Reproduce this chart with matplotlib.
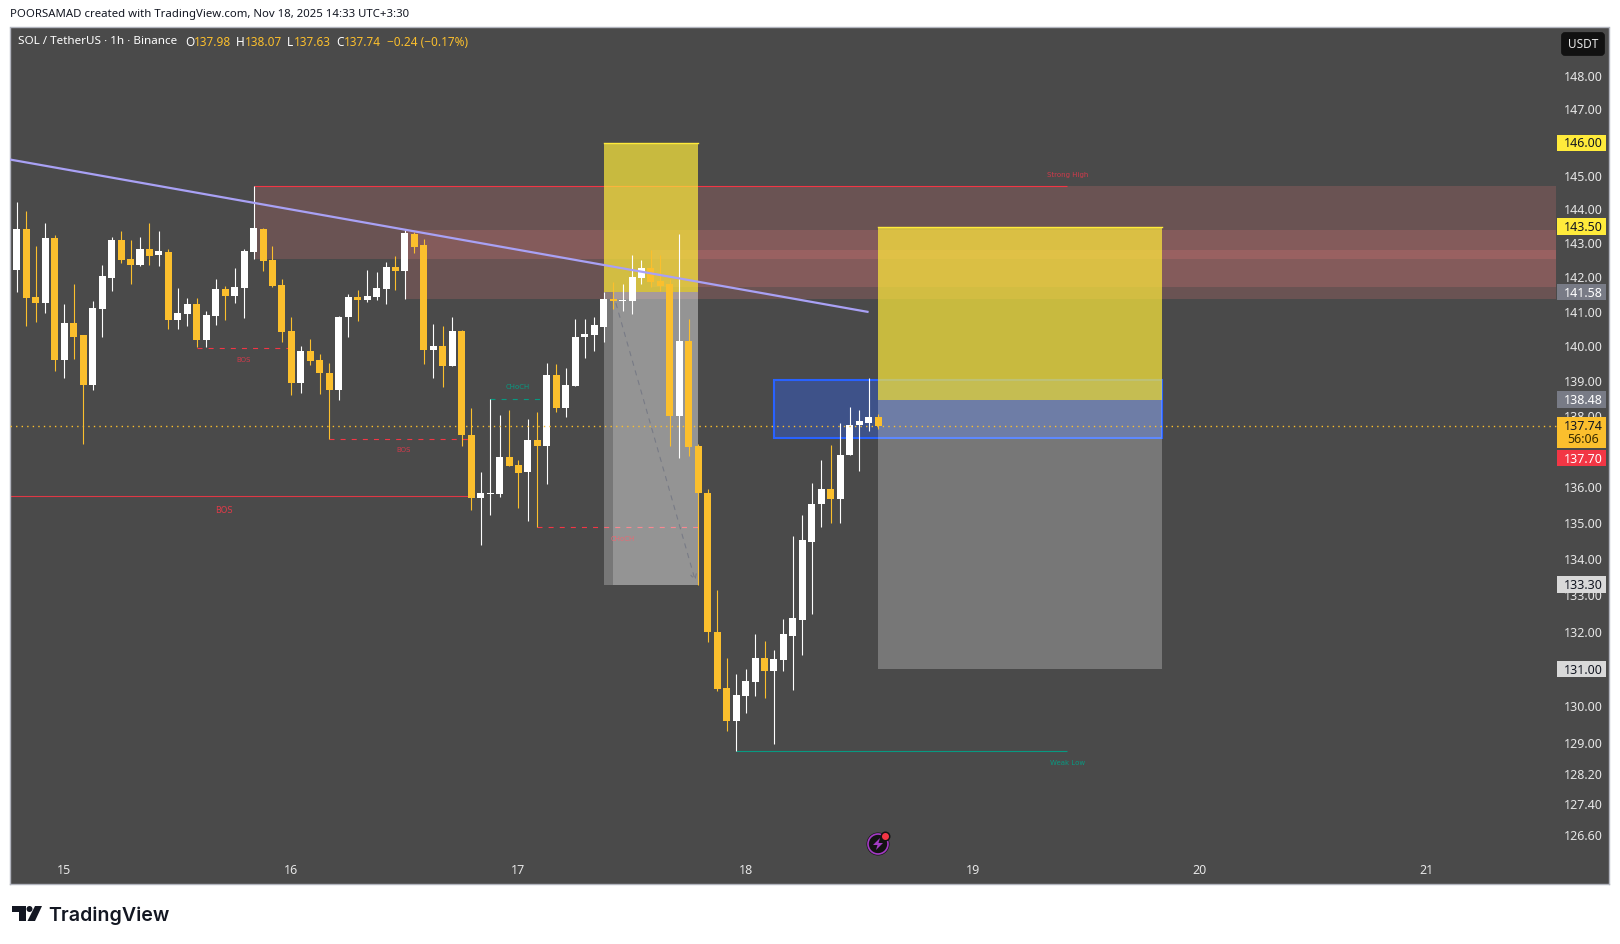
import matplotlib
matplotlib.use('Agg')
import matplotlib.pyplot as plt
from matplotlib.patches import Rectangle, Circle, Polygon, FancyBboxPatch
from matplotlib.transforms import IdentityTransform, Affine2D
from matplotlib.ticker import NullLocator, NullFormatter
import numpy as np

W, H = 1620, 944

opens = [142.22, 143.43, 141.43, 141.25, 143.16, 139.60, 140.67, 140.32, 138.91, 141.08,
         141.98, 143.10, 142.54, 142.37, 142.84, 142.66, 142.75, 140.76, 140.93, 141.22,
         140.18, 140.88, 141.66, 141.46, 141.69, 142.75, 143.43, 142.51, 141.78, 140.44,
         138.94, 139.86, 139.60, 139.23, 138.74, 140.85, 141.43, 141.34, 141.43, 141.66,
         142.31, 142.19, 143.28, 142.95, 139.89, 140.03, 139.43, 140.44, 137.46, 135.69,
         135.80, 135.80, 136.84, 136.64, 136.42, 137.32, 137.15, 139.17, 138.23, 138.86,
         140.27, 140.32, 140.56, 141.37, 141.31, 141.31, 141.98, 142.28, 141.90, 141.81,
         138.00, 140.15, 137.15, 135.85, 132.02, 130.50, 129.62, 130.29, 130.66, 131.31,
         130.96, 131.25, 131.91, 132.34, 134.49, 135.52, 135.94, 135.66, 136.90, 137.75,
         137.80, 137.98]
highs = [144.22, 143.96, 142.92, 143.60, 143.25, 141.22, 141.81, 140.32, 141.31, 142.37,
         143.19, 143.37, 143.10, 143.19, 143.60, 143.37, 142.84, 141.69, 141.40, 141.40,
         141.02, 141.95, 141.75, 142.28, 142.84, 144.70, 143.46, 142.92, 141.95, 140.85,
         140.03, 140.21, 139.80, 139.52, 140.88, 141.52, 141.63, 142.22, 142.16, 142.45,
         142.63, 143.40, 143.34, 143.13, 140.65, 140.59, 140.85, 140.47, 138.23, 136.42,
         138.51, 138.03, 138.17, 136.78, 137.94, 138.14, 139.52, 139.49, 139.37, 140.79,
         140.79, 140.85, 141.57, 141.87, 141.81, 142.66, 142.51, 142.81, 142.66, 141.95,
         143.28, 140.79, 137.21, 135.94, 133.16, 131.31, 130.88, 131.01, 131.96, 131.77,
         131.53, 132.37, 134.65, 135.24, 136.11, 136.78, 137.18, 137.80, 138.26, 138.17,
         139.11, 138.07]
lows = [141.57, 140.59, 140.70, 140.96, 139.29, 139.11, 139.63, 137.21, 138.74, 140.27,
        141.60, 142.42, 141.81, 142.34, 142.37, 142.34, 140.50, 140.50, 140.59, 139.98,
        139.98, 140.62, 140.76, 141.25, 140.82, 142.54, 142.19, 141.72, 140.12, 138.60,
        138.66, 139.46, 138.63, 137.37, 138.46, 140.29, 140.73, 141.28, 141.34, 141.22,
        141.63, 141.37, 142.72, 139.49, 139.11, 138.83, 139.43, 137.15, 135.38, 134.40,
        135.24, 135.74, 136.61, 135.43, 135.07, 134.90, 136.08, 138.14, 137.97, 138.86,
        139.66, 139.86, 140.12, 141.08, 141.02, 140.93, 141.81, 141.72, 141.60, 137.15,
        136.81, 136.87, 133.30, 131.74, 130.42, 129.35, 128.82, 129.83, 130.29, 130.23,
        129.00, 130.96, 130.45, 131.39, 132.51, 134.90, 135.01, 135.01, 136.90, 136.47,
        137.60, 137.63]
closes = [143.43, 141.41, 141.25, 143.16, 139.60, 140.67, 140.29, 138.89, 141.11, 142.04,
          143.10, 142.51, 142.37, 142.84, 142.63, 142.78, 140.76, 140.96, 141.22, 140.18,
          140.90, 141.66, 141.46, 141.72, 142.78, 143.46, 142.48, 141.75, 140.41, 138.94,
          139.86, 139.58, 139.23, 138.74, 140.85, 141.43, 141.34, 141.46, 141.69, 142.31,
          142.19, 143.31, 142.89, 139.89, 140.03, 139.43, 140.44, 137.46, 135.69, 135.83,
          135.83, 136.84, 136.61, 136.39, 137.32, 137.15, 139.17, 138.23, 138.89, 140.29,
          140.35, 140.62, 141.37, 141.31, 141.34, 142.01, 142.28, 141.87, 141.75, 138.00,
          140.15, 137.12, 135.85, 132.02, 130.47, 129.62, 130.31, 130.69, 131.31, 130.96,
          131.28, 131.96, 132.40, 134.52, 135.52, 135.94, 135.66, 136.92, 137.77, 137.86,
          137.97, 137.74]

price_ticks = [148, 147, 146, 145, 144, 143, 142, 141, 140, 139, 138, 136, 135, 134, 133,
               132, 130, 129, 128.2, 127.4, 126.6]
day_ticks = [5, 29, 53, 77, 101, 125, 149]
day_labels = ['15', '16', '17', '18', '19', '20', '21']

UP = '#ffffff'
DOWN = '#fbbf2d'
RED = '#f23645'
TEAL = '#089981'
BG = '#4a4a4a'

fig = plt.figure(figsize=(W / 100, H / 100), dpi=100, facecolor='white')
plt.rcParams['font.family'] = ['Noto Sans', 'DejaVu Sans']
ax = fig.add_axes([9.8 / W, 1 - 884 / H, 1599.2 / W, 856.5 / H], facecolor=BG)
ax.set_yscale('log')
ax.set_xlim(-0.76, 168.25)
ax.set_ylim(125.33, 149.51)
ax.xaxis.set_major_locator(NullLocator())
ax.yaxis.set_major_locator(NullLocator())
ax.yaxis.set_minor_locator(NullLocator())
ax.yaxis.set_minor_formatter(NullFormatter())
for s in ax.spines.values():
    s.set_color('#b2b5be')
    s.set_linewidth(1)


def box(x0, x1, p0, p1, color, alpha, z, **kw):
    ax.add_patch(Rectangle((x0, p0), x1 - x0, p1 - p0, facecolor=color, alpha=alpha,
                           edgecolor='none', zorder=z, **kw))


# supply zones
zone_color = '#ef7c7c'
box(25, 162.6, 142.54, 144.70, zone_color, 0.2, 1)
box(41, 162.6, 141.37, 143.40, zone_color, 0.2, 1)
box(67, 162.6, 141.72, 142.81, zone_color, 0.2, 1)

# blue box, then the two long/short tools over it
ax.add_patch(Rectangle((80, 137.40), 41, 139.03 - 137.40, facecolor='#2962ff', alpha=0.35,
                       edgecolor='none', zorder=1.5))
ax.add_patch(Rectangle((80, 137.40), 41, 139.03 - 137.40, facecolor='none',
                       edgecolor='#2962ff', lw=1.5, zorder=1.6))
box(62, 72, 141.58, 146.00, '#ffeb3b', 0.7, 2)
box(62, 72, 133.30, 141.58, '#ffffff', 0.25, 2)
box(63, 72, 133.30, 141.58, '#ffffff', 0.22, 2)
box(91, 121, 138.48, 143.50, '#ffeb3b', 0.7, 2)
box(91, 121, 131.00, 138.48, '#ffffff', 0.25, 2)
ax.plot([91, 121], [143.50, 143.50], color='#ffeb3b', lw=1, zorder=2.1)
ax.plot([62, 72], [146.00, 146.00], color='#ffeb3b', lw=1, zorder=2.1)

# structure lines, these sit under the long/short tools
ax.hlines(144.70, 25, 111, color=RED, lw=0.8, zorder=1.8)
ax.hlines(128.82, 76, 111, color=TEAL, lw=0.8, zorder=1.8)
ax.hlines(135.77, -0.76, 48, color=RED, lw=0.8, alpha=0.9, zorder=1.8)
for x0, x1, p, c in [(19, 29, 139.97, RED), (33, 48, 137.37, RED),
                     (50, 55.5, 138.50, TEAL), (55, 72, 134.90, RED)]:
    ax.plot([x0, x1], [p, p], color=c, lw=0.8, linestyle=(0, (4.5, 5.5)), zorder=1.8)

ax.annotate('', xy=(71.7, 133.4), xytext=(63.3, 141.25), zorder=2.6,
            arrowprops=dict(arrowstyle='->', color='#787b86', lw=0.8,
                            linestyle=(0, (4, 5)), shrinkA=0, shrinkB=0))

# candles
x = np.arange(len(opens))
o = np.array(opens)
c = np.array(closes)
colors = [UP if b >= a else DOWN for a, b in zip(o, c)]
ax.vlines(x, lows, highs, colors=colors, lw=0.8, zorder=3)
ax.bar(x, np.abs(c - o), bottom=np.minimum(o, c), width=0.74, color=colors, linewidth=0, zorder=3)

ax.hlines(closes[-1], -0.76, 162.6, color=DOWN, lw=1, linestyle=(0, (1, 3)), zorder=3.5)
ax.plot([-0.76, 90], [145.50, 141.00], color='#a9a1f5', lw=1.6, zorder=4, solid_capstyle='butt')

# small labels
for tx, tp, s, col, fs in [(23.9, 139.61, 'BOS', '#d03a4a', 5), (40.9, 137.05, 'BOS', '#d03a4a', 5),
                           (21.85, 135.34, 'BOS', '#e03a48', 6), (52.9, 138.84, 'CHoCH', '#089981', 5),
                           (64, 134.57, 'CHoCH', '#e86a74', 5), (111, 145.03, 'Strong High', '#d03a4a', 5),
                           (111, 128.5, 'Weak Low', '#089981', 5)]:
    ax.text(tx, tp, s, color=col, fontsize=fs, ha='center', va='center', zorder=5,
            family=['DejaVu Sans'])

# price axis
fig.canvas.draw()
tx_axis = ax.get_yaxis_transform() + Affine2D().translate(0, -1)
label_x = (1583 - 9.8) / 1599.2
for p in price_ticks:
    ax.text(label_x, p, '%.2f' % p, transform=tx_axis, color='#e6e6e6', fontsize=9,
            fontweight='medium', ha='center', va='center', zorder=5)


def tag(price, text, fc, tc, height=16.4, box_dy=0, text_dy=1):
    ypx = ax.transData.transform((0, price))[1]
    ax.add_patch(Rectangle((1557, ypx - height / 2 - box_dy), 48.7, height, transform=IdentityTransform(),
                           facecolor=fc, edgecolor='none', clip_on=False, zorder=6))
    ax.text(1583, ypx - text_dy, text, transform=IdentityTransform(), color=tc, fontsize=9,
            ha='center', va='center', zorder=7)


tag(146.00, '146.00', '#ffeb3b', '#131722')
tag(143.50, '143.50', '#ffeb3b', '#131722')
tag(141.58, '141.58', '#787b86', '#ffffff')
tag(138.48, '138.48', '#787b86', '#ffffff')
tag(133.30, '133.30', '#d9d9d9', '#131722')
tag(131.00, '131.00', '#d9d9d9', '#131722')
tag(137.74, '137.74', DOWN, '#131722', height=30.3, box_dy=7)
ax.text(1583, H - 439.5, '56:06', transform=IdentityTransform(), color='#3a2c00', fontsize=9,
        ha='center', va='center', zorder=7)
tag(137.70, '137.70', RED, '#ffffff', box_dy=31, text_dy=32)

ax.add_patch(FancyBboxPatch((1562.5, H - 54.5), 41, 21, boxstyle='round,pad=0,rounding_size=2.5',
                            transform=IdentityTransform(), facecolor='#111111', edgecolor='#111111',
                            lw=2, clip_on=False, zorder=6))
ax.text(1583, H - 44, 'USDT', transform=IdentityTransform(), color='#e6e6e6', fontsize=8.5,
        ha='center', va='center', zorder=7)

# day labels
for d, s in zip(day_ticks, day_labels):
    ax.text(d, 13 / 856.5, s, transform=ax.get_xaxis_transform(), color='#e6e6e6', fontsize=9,
            ha='center', va='center', zorder=5)

# legend row
row_y = H - 42
ax.text(17.5, row_y, 'SOL / TetherUS · 1h · Binance', transform=IdentityTransform(), color='#ffffff',
        fontsize=8.4, va='center', zorder=5)
for px, s, col in [(185, 'O', '#ffffff'), (194, '137.98', DOWN), (236.3, 'H', '#ffffff'), (245, '138.07', DOWN),
                   (287.3, 'L', '#ffffff'), (294.3, '137.63', DOWN), (336.3, 'C', '#ffffff'), (344.3, '137.74', DOWN),
                   (386.7, '\u22120.24 (\u22120.17%)', DOWN)]:
    ax.text(px, row_y, s, transform=IdentityTransform(), color=col, fontsize=8.5, va='center', zorder=5)

# alert icon
ic = IdentityTransform()
ax.add_patch(Circle((878, H - 844), 11.5, transform=ic, facecolor='#131313', edgecolor='none', zorder=5))
ax.add_patch(Circle((878, H - 844), 10, transform=ic, facecolor='#131313', edgecolor='#a33bc4', lw=1.2, zorder=5.1))
ax.add_patch(Polygon([(880, H - 838), (873, H - 845), (877.5, H - 845), (876, H - 850), (883, H - 843),
                      (878.5, H - 843)], transform=ic, facecolor='#a33bc4', edgecolor='none', zorder=5.2))
ax.add_patch(Circle((885.5, H - 836.5), 5, transform=ic, facecolor='#131313', edgecolor='none', zorder=5.3))
ax.add_patch(Circle((885.5, H - 836.5), 3.5, transform=ic, facecolor='#f23645', edgecolor='none', zorder=5.4))

# header and logo
fig.text(10 / W, 1 - 15 / H, 'POORSAMAD created with TradingView.com, Nov 18, 2025 14:33 UTC+3:30',
         color='#131722', fontsize=8.2, va='center')
fig.text(48.5 / W, 1 - 916 / H, 'TradingView', color='#131722', fontsize=14.1, fontweight='semibold',
         family=['Inter', 'DejaVu Sans'], va='center')
logo = '#131722'
fig.add_artist(Polygon([(12, H - 906), (26, H - 906), (26, H - 921), (19, H - 921), (19, H - 912), (12, H - 912)],
                       transform=ic, facecolor=logo, edgecolor='none'))
fig.add_artist(Circle((29.5, H - 909), 3, transform=ic, facecolor=logo, edgecolor='none'))
fig.add_artist(Polygon([(35, H - 906), (42, H - 906), (35, H - 921), (27.5, H - 921)],
                       transform=ic, facecolor=logo, edgecolor='none'))

fig.savefig('out.png', dpi=100, facecolor='white')
